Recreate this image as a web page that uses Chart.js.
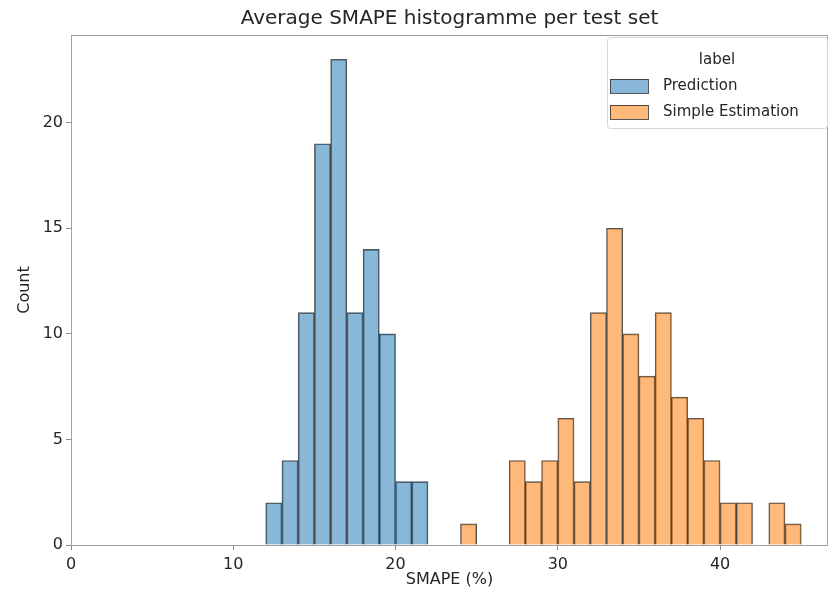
<!DOCTYPE html>
<html>
<head>
<meta charset="utf-8">
<script src="https://cdn.jsdelivr.net/npm/chart.js@4.4.1/dist/chart.umd.min.js"></script>
<style>
  html, body { margin: 0; padding: 0; background: #fff; }
</style>
</head>
<body>
<canvas id="myChart" width="830" height="591"></canvas>
<script>
// histogram bins are 1% wide, values are bin centres
var predBins = [12.5, 13.5, 14.5, 15.5, 16.5, 17.5, 18.5, 19.5, 20.5, 21.5];
var predCounts = [2, 4, 11, 19, 23, 11, 14, 10, 3, 3];
var estBins = [24.5, 27.5, 28.5, 29.5, 30.5, 31.5, 32.5, 33.5, 34.5, 35.5, 36.5, 37.5, 38.5, 39.5, 40.5, 41.5, 43.5, 44.5];
var estCounts = [1, 4, 3, 4, 6, 3, 11, 15, 10, 8, 11, 7, 6, 4, 2, 2, 2, 1];
var xTicks = [0, 10, 20, 30, 40];
var yTicks = [0, 5, 10, 15, 20];

function toPoints(xs, ys) {
  return xs.map(function (x, i) { return { x: x, y: ys[i] }; });
}

// legend drawn in the upper right corner of the plot, like seaborn does
var boxLegend = {
  id: 'boxLegend',
  afterDraw: function (chart) {
    var ctx = chart.ctx, a = chart.chartArea;
    var x = 607, y = a.top + 2, w = a.right - 607 - 1, h = 91;
    ctx.save();
    ctx.fillStyle = 'rgba(255,255,255,0.9)';
    ctx.strokeStyle = '#d6d6d6';
    ctx.lineWidth = 1;
    ctx.beginPath();
    ctx.roundRect(x + 0.5, y + 0.5, w, h, 3);
    ctx.fill();
    ctx.stroke();
    ctx.font = '15px "DejaVu Sans"';
    ctx.fillStyle = '#262626';
    ctx.textAlign = 'center';
    ctx.textBaseline = 'middle';
    ctx.fillText('label', x + w / 2, y + 23);
    ctx.textAlign = 'left';
    chart.data.datasets.forEach(function (ds, i) {
      var ry = y + 49 + i * 26;
      ctx.fillStyle = ds.backgroundColor;
      ctx.fillRect(x + 3, ry - 7, 38, 14);
      ctx.strokeStyle = ds.borderColor;
      ctx.strokeRect(x + 3.5, ry - 6.5, 38, 14);
      ctx.fillStyle = '#262626';
      ctx.fillText(ds.label, x + 56, ry);
    });
    ctx.restore();
  }
};

// matplotlib style frame around the axes
var frame = {
  id: 'frame',
  afterDraw: function (chart) {
    var ctx = chart.ctx, a = chart.chartArea;
    ctx.save();
    ctx.strokeStyle = '#a0a0a0';
    ctx.lineWidth = 1;
    ctx.strokeRect(a.left + 0.5, a.top + 0.5, a.right - a.left - 1, a.bottom - a.top);
    ctx.restore();
  }
};

var ctx = document.getElementById('myChart').getContext('2d');
var myChart = new Chart(ctx, {
  type: 'bar',
  data: {
    datasets: [{
      label: 'Prediction',
      data: toPoints(predBins, predCounts),
      backgroundColor: 'rgba(31, 119, 180, 0.53)',
      borderColor: 'rgba(30, 30, 30, 0.75)',
      borderWidth: 1,
      grouped: false,
      barPercentage: 1,
      categoryPercentage: 1
    }, {
      label: 'Simple Estimation',
      data: toPoints(estBins, estCounts),
      backgroundColor: 'rgba(255, 127, 14, 0.55)',
      borderColor: 'rgba(30, 30, 30, 0.75)',
      borderWidth: 1,
      grouped: false,
      barPercentage: 1,
      categoryPercentage: 1
    }]
  },
  options: {
    responsive: false,
    animation: false,
    layout: { padding: { left: 0, right: 2, top: 0, bottom: 0 } },
    plugins: {
      legend: { display: false },
      tooltip: { enabled: false },
      title: {
        display: true,
        text: 'Average SMAPE histogramme per test set',
        fullSize: false,
        color: '#262626',
        font: { family: 'DejaVu Sans', size: 20, weight: 'normal' },
        padding: { top: 7, bottom: 4 }
      }
    },
    scales: {
      x: {
        type: 'linear',
        min: 0,
        max: 46.65,
        offset: false,
        afterBuildTicks: function (s) { s.ticks = xTicks.map(function (v) { return { value: v }; }); },
        afterFit: function (s) { s.height = 46; },
        grid: { display: true, offset: false, drawOnChartArea: false, drawTicks: true, tickLength: 5, color: '#8a8a8a' },
        border: { display: false },
        ticks: { color: '#262626', padding: 5, maxRotation: 0, font: { family: 'DejaVu Sans', size: 16 } },
        title: { display: true, text: 'SMAPE (%)', color: '#262626', padding: { top: 0, bottom: 2 }, font: { family: 'DejaVu Sans', size: 16 } }
      },
      y: {
        min: 0,
        max: 24.15,
        afterBuildTicks: function (s) { s.ticks = yTicks.map(function (v) { return { value: v }; }); },
        afterFit: function (s) { s.width = 71; },
        grid: { display: true, drawOnChartArea: false, drawTicks: true, tickLength: 5, color: '#8a8a8a' },
        border: { display: false },
        ticks: { color: '#262626', padding: 3, font: { family: 'DejaVu Sans', size: 16 } },
        title: { display: true, text: 'Count', color: '#262626', padding: { top: 15, bottom: 0 }, font: { family: 'DejaVu Sans', size: 16 } }
      }
    }
  },
  plugins: [frame, boxLegend]
});
</script>
</body>
</html>
